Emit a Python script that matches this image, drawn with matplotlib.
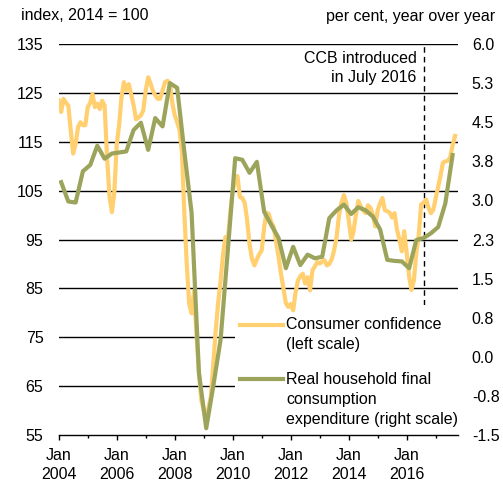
import datetime as dt

import matplotlib
matplotlib.use('Agg')
import matplotlib.pyplot as plt
from matplotlib.lines import Line2D
from matplotlib.patches import Rectangle
import pandas as pd

plt.rcParams['font.family'] = ['Liberation Sans', 'DejaVu Sans']
plt.rcParams['font.size'] = 11.5

# consumer confidence, monthly from Jan 2004, index 2014 = 100 (left scale)
confidence_start = '2004-01-01'
confidence = [
    123.5, 121.1, 123.8, 123.0, 122.4, 117.3, 112.6, 114.6, 118.0, 119.0, 118.4, 118.4,
    122.1, 123.0, 124.8, 122.1, 122.8, 121.7, 123.4, 122.4, 111.9, 104.0, 100.6, 104.5,
    114.5, 118.5, 124.0, 127.2, 125.6, 126.8, 124.8, 122.5, 119.6, 120.0, 120.4, 121.4,
    125.5, 128.2, 127.0, 125.5, 124.5, 123.8, 123.8, 125.5, 127.2, 127.5, 127.0, 123.0,
    120.5, 119.0, 117.5, 113.0, 100.5, 90.0, 81.9, 79.9, 84.5, 75.5, 68.0, 62.2,
    60.0, 58.8, 60.5, 62.9, 69.5, 76.5, 82.0, 86.5, 92.0, 95.5, 95.0, 100.5,
    105.0, 107.1, 108.0, 103.7, 103.5, 102.5, 99.0, 94.0, 91.0, 89.7, 91.0, 92.0,
    92.8, 97.5, 100.5, 100.2, 98.5, 97.6, 94.5, 91.5, 88.0, 85.0, 82.0, 81.2,
    81.8, 80.5, 84.0, 86.6, 87.5, 88.0, 86.0, 87.3, 84.6, 88.7, 89.5, 90.4,
    90.1, 90.5, 90.8, 89.7, 90.0, 91.0, 92.8, 95.5, 100.0, 102.5, 104.1, 102.5,
    99.0, 95.0, 96.5, 100.0, 102.9, 101.8, 101.0, 100.4, 102.0, 101.5, 100.0, 97.7,
    101.0, 102.5, 103.5, 101.0, 100.8, 100.5, 99.5, 100.4, 97.0, 95.0, 92.6, 96.7,
    92.2, 87.4, 84.7, 86.7, 92.2, 96.0, 102.2, 102.5, 103.2, 101.5, 100.4, 101.1,
    103.5, 106.0, 108.0, 110.7, 111.0, 111.1, 111.8, 114.2, 116.2,
]

# real household final consumption expenditure, quarterly from 2004Q1,
# per cent year over year (right scale), plotted at mid-quarter
consumption_start = '2004-02-01'
consumption = [
    3.35, 2.98, 2.96, 3.56, 3.68, 4.05, 3.80, 3.90, 3.92, 3.94, 4.35, 4.49,
    3.97, 4.58, 4.42, 5.25, 5.16, 3.94, 2.76, -0.31, -1.37, -0.56, 0.33, 2.06,
    3.81, 3.78, 3.53, 3.74, 2.78, 2.53, 2.28, 1.70, 2.11, 1.76, 1.96, 1.89,
    1.92, 2.66, 2.81, 2.92, 2.74, 2.87, 2.81, 2.69, 2.44, 1.86, 1.84, 1.83,
    1.70, 2.24, 2.28, 2.37, 2.49, 2.94, 3.87,
]

left_ticks = [55, 65, 75, 85, 95, 105, 115, 125, 135]
right_ticks = [-1.5, -0.75, 0.0, 0.75, 1.5, 2.25, 3.0, 3.75, 4.5, 5.25, 6.0]
right_ticklabels = ['-1.5', '-0.8', '0.0', '0.8', '1.5', '2.3', '3.0', '3.8',
                    '4.5', '5.3', '6.0']
major_years = [2004, 2006, 2008, 2010, 2012, 2014, 2016]
minor_years = [2005, 2007, 2009, 2011, 2013, 2015, 2017]
ccb_date = '2016-07-31'

orange = '#FFCF70'
olive = '#9CA45B'

conf_dates = pd.date_range(confidence_start, periods=len(confidence), freq='MS')
cons_dates = pd.date_range(consumption_start, periods=len(consumption), freq='3MS')

fig = plt.figure(figsize=(5.03, 4.84), dpi=100)
ax = fig.add_axes([0.1167, 0.1012, 0.7938, 0.8078])
ax2 = ax.twinx()

ax.set_xlim(dt.datetime(2004, 1, 1), dt.datetime(2017, 10, 8))
ax.set_ylim(55, 135)
ax2.set_ylim(-1.5, 6.0)

# gridlines (the lower ones are hidden behind the legend box)
for y in left_ticks[1:]:
    ax.axhline(y, color='black', lw=1.0, zorder=1)
ax.add_patch(Rectangle((0.442, 0.004), 0.56, 0.3285, transform=ax.transAxes,
                       facecolor='white', edgecolor='none', zorder=2))

ax.axvline(pd.Timestamp(ccb_date), ymin=0.333, ymax=1.0, color='black',
           lw=1.0, ls=(0, (4, 3)), zorder=1.5)
ax.annotate('CCB introduced\nin July 2016', xy=(pd.Timestamp(ccb_date), 135),
            xytext=(-5, -5), textcoords='offset points', ha='right', va='top',
            linespacing=1.3)

ax.plot(conf_dates, confidence, color=orange, lw=3.0, zorder=3,
        solid_joinstyle='round')
ax2.plot(cons_dates, consumption, color=olive, lw=3.0, zorder=3,
         solid_joinstyle='round')

ax.set_yticks(left_ticks)
ax.tick_params(axis='y', length=0, pad=11)
ax2.set_yticks(right_ticks)
ax2.set_yticklabels(right_ticklabels)
ax2.tick_params(axis='y', length=0, pad=10)

ax.set_xticks([dt.datetime(y, 1, 1) for y in major_years])
ax.set_xticklabels([f'Jan\n{y}' for y in major_years], linespacing=1.3)
ax.set_xticks([dt.datetime(y, 1, 1) for y in minor_years], minor=True)
ax.tick_params(axis='x', which='major', length=3.6, width=1.0, pad=6)
ax.tick_params(axis='x', which='minor', length=2.2, width=1.0)

for s in ['top', 'left', 'right']:
    ax.spines[s].set_visible(False)
for s in ax2.spines.values():
    s.set_visible(False)
ax.spines['bottom'].set_linewidth(1.0)

# legend drawn by hand so the key sits on the first line of each label
entries = [(orange, 'Consumer confidence\n(left scale)', 0.2826),
           (olive, 'Real household final\nconsumption\nexpenditure (right scale)', 0.1425)]
for color, label, yy in entries:
    ax2.add_line(Line2D([0.454, 0.562], [yy, yy], transform=ax2.transAxes,
                        color=color, lw=3.0, clip_on=False))
    ax2.text(0.569, yy + 0.018, label, transform=ax2.transAxes, ha='left',
             va='top', linespacing=1.4)

fig.text(21 / 503, 1 - 16 / 484, 'index, 2014 = 100', ha='left', va='center')
fig.text(495 / 503, 1 - 16 / 484, 'per cent, year over year', ha='right',
         va='center')

fig.savefig('out.png', dpi=100)
